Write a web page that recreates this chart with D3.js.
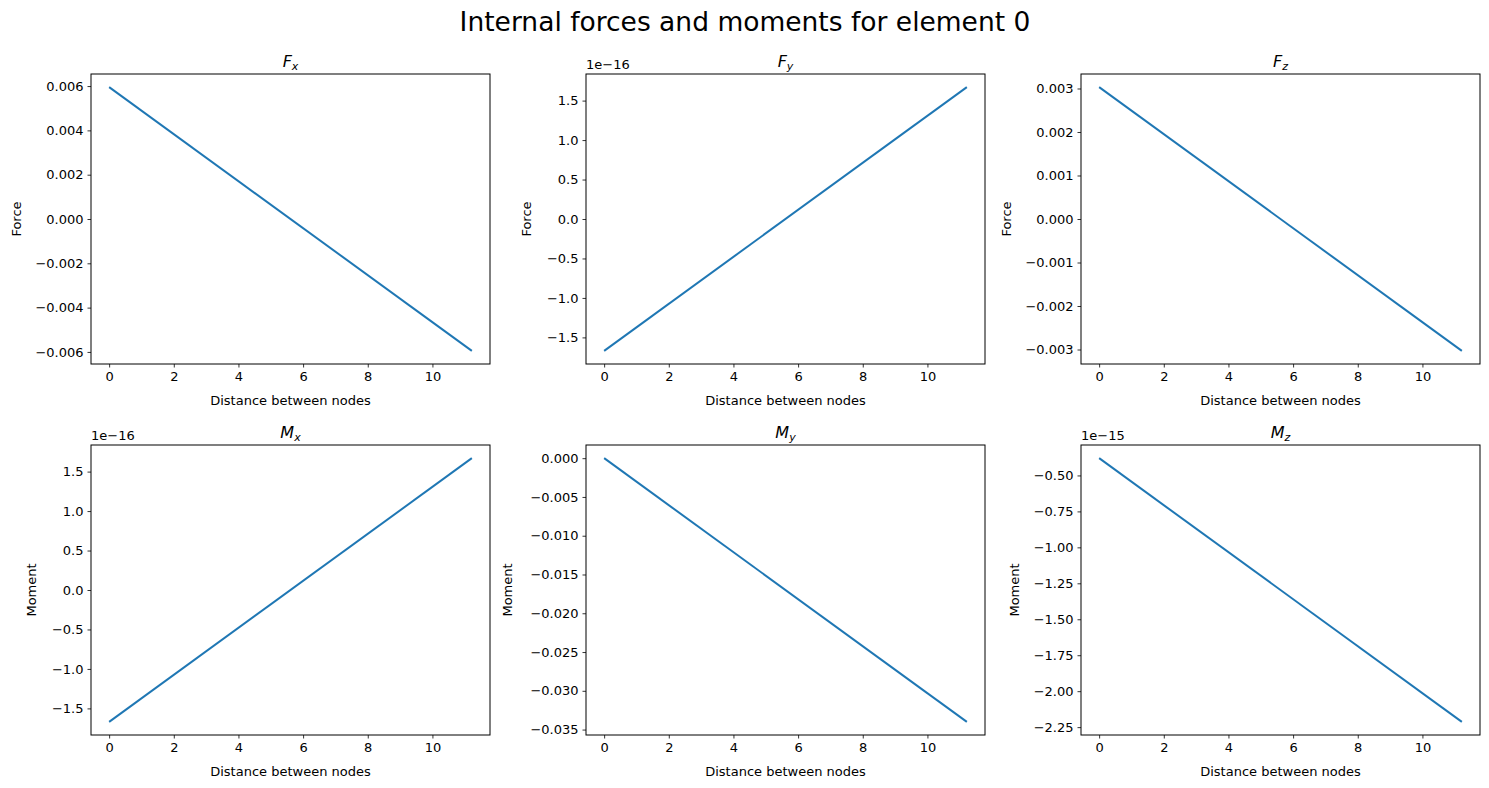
<!DOCTYPE html>
<html>
<head>
<meta charset="utf-8">
<script src="https://cdn.jsdelivr.net/npm/d3@7"></script>
<style>
  body { margin: 0; background: #fff; font-family: "DejaVu Sans", sans-serif; }
  text { fill: #000; }
</style>
</head>
<body>
<div id="chart"></div>
<script>
var width = 1489;
var height = 788;

// data: each internal force varies linearly along the element
var distance = [0, 11.22];
var fxValues = [0.00595, -0.00595];
var fyValues = [-1.67e-16, 1.67e-16];
var fzValues = [0.00303, -0.00303];
var mxValues = [-1.67e-16, 1.67e-16];
var myValues = [0, -0.034];
var mzValues = [-0.38e-15, -2.213e-15];

var titles = [["F", "x"], ["F", "y"], ["F", "z"], ["M", "x"], ["M", "y"], ["M", "z"]];
var yLabels = ["Force", "Force", "Force", "Moment", "Moment", "Moment"];
var series = [fxValues, fyValues, fzValues, mxValues, myValues, mzValues];
var xTicks = [0, 2, 4, 6, 8, 10];
var yTicks = [
  [0.006, 0.004, 0.002, 0, -0.002, -0.004, -0.006],
  [1.5, 1.0, 0.5, 0, -0.5, -1.0, -1.5],
  [0.003, 0.002, 0.001, 0, -0.001, -0.002, -0.003],
  [1.5, 1.0, 0.5, 0, -0.5, -1.0, -1.5],
  [0, -0.005, -0.010, -0.015, -0.020, -0.025, -0.030, -0.035],
  [-0.5, -0.75, -1.0, -1.25, -1.5, -1.75, -2.0, -2.25]
];
var tickDigits = [3, 1, 3, 1, 3, 2];
var scaleExp = [0, -16, 0, -16, 0, -15];

var svg = d3.select("#chart").append("svg")
  .attr("width", width)
  .attr("height", height);

svg.append("text")
  .attr("x", 745).attr("y", 31)
  .attr("text-anchor", "middle")
  .style("font-size", "26.5px")
  .text("Internal forces and moments for element 0");

var colLeft = [91, 586, 1081];
var rowTop = [74, 445];
var pw = 399, ph = 290;

function fmt(v, digits) {
  return v.toFixed(digits).replace("-", "\u2212");
}

series.forEach(function(vals, i) {
  var ox = colLeft[i % 3], oy = rowTop[Math.floor(i / 3)];
  var g = svg.append("g").attr("transform", "translate(" + ox + "," + oy + ")");
  var mult = Math.pow(10, scaleExp[i]);

  var xd = d3.extent(distance), xpad = (xd[1] - xd[0]) * 0.05;
  var yd = d3.extent(vals), ypad = (yd[1] - yd[0]) * 0.05;
  var x = d3.scaleLinear().domain([xd[0] - xpad, xd[1] + xpad]).range([0, pw]);
  var y = d3.scaleLinear().domain([yd[0] - ypad, yd[1] + ypad]).range([ph, 0]);

  var xAxis = g.append("g")
    .attr("transform", "translate(0," + ph + ")")
    .call(d3.axisBottom(x).tickValues(xTicks).tickSize(3.5).tickPadding(4).tickFormat(d3.format("d")));
  var yAxis = g.append("g")
    .call(d3.axisLeft(y).tickValues(yTicks[i].map(function(t) { return t * mult; }))
      .tickSize(3.5).tickPadding(4)
      .tickFormat(function(d) { return fmt(d / mult, tickDigits[i]); }));
  [xAxis, yAxis].forEach(function(a) {
    a.select(".domain").remove();
    a.selectAll("text").style("font-size", "13px").style("font-family", "DejaVu Sans").attr("fill", "#000");
    a.selectAll("line").attr("stroke", "#000").attr("stroke-width", 0.8);
  });

  var line = d3.line()
    .x(function(d, k) { return x(distance[k]); })
    .y(function(d) { return y(d); });
  g.append("path").datum(vals)
    .attr("d", line)
    .attr("fill", "none")
    .attr("stroke", "#1f77b4")
    .attr("stroke-width", 2);

  g.append("rect").attr("width", pw).attr("height", ph)
    .attr("fill", "none").attr("stroke", "#000").attr("stroke-width", 1);

  var t = g.append("text").attr("x", pw / 2).attr("y", -7)
    .attr("text-anchor", "middle").style("font-size", "16px");
  t.append("tspan").style("font-style", "italic").text(titles[i][0]);
  t.append("tspan").attr("dy", 3).style("font-size", "11px").style("font-style", "italic").text(titles[i][1]);

  g.append("text").attr("x", pw / 2).attr("y", ph + 41)
    .attr("text-anchor", "middle").style("font-size", "13px")
    .text("Distance between nodes");

  var yLabelX = scaleExp[i] !== 0 ? -65 : -70;
  if (i === 4) yLabelX = -74;
  if (i === 5) yLabelX = -62;
  if (i === 3) yLabelX = -55;
  if (i === 1) yLabelX = -55;
  g.append("text")
    .attr("transform", "translate(" + yLabelX + "," + (ph / 2) + ") rotate(-90)")
    .attr("text-anchor", "middle").style("font-size", "13px")
    .text(yLabels[i]);

  if (scaleExp[i] !== 0) {
    g.append("text").attr("x", 0).attr("y", -5)
      .style("font-size", "13px")
      .text("1e\u2212" + Math.abs(scaleExp[i]));
  }
});
</script>
</body>
</html>
